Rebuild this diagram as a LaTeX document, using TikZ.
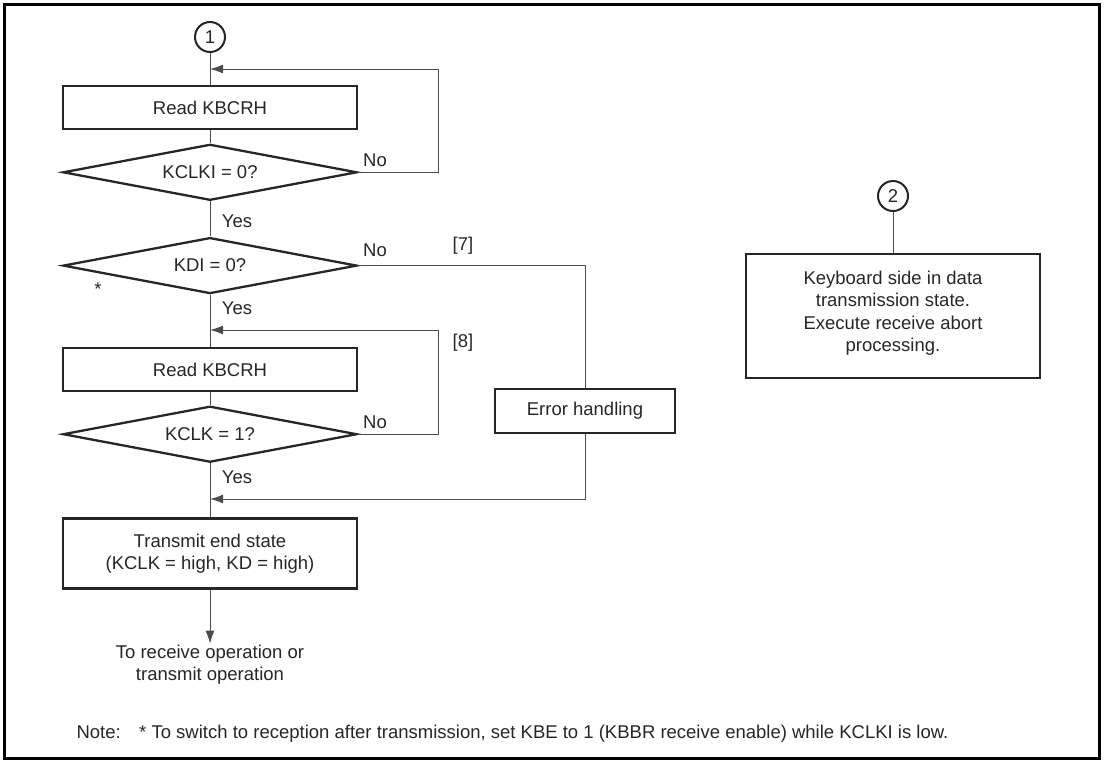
\documentclass[tikz,border=0pt]{standalone}
\usepackage{fontspec}
\setmainfont{Liberation Sans}
\usetikzlibrary{arrows.meta,positioning,shapes.geometric}

\begin{document}
\begin{tikzpicture}[
    x=1pt, y=-1pt,
    every node/.style={font=\fontsize{18.5}{22.5}\selectfont, text=black!85},
    procbox/.style={
      draw=black!85, line width=2.3pt,
      minimum width=294pt, minimum height=43pt,
      align=center, inner sep=2pt
    },
    decision/.style={
      draw=black!85, line width=2.3pt, diamond, aspect=5.25,
      minimum width=294pt, minimum height=56pt,
      inner sep=0pt
    },
    connector/.style={
      draw=black!85, line width=2pt, circle,
      minimum size=30pt, inner sep=0pt
    },
    flow/.style={line width=1pt, black!70},
    arrow/.style={flow, -{Latex[length=13pt,width=9pt]}},
    flowtag/.style={inner sep=0pt}
  ]

    \useasboundingbox (0,0) rectangle (1105,761);
    \draw[line width=3pt] (4,4) rectangle (1099,758);

    % left column
    \node[connector] (c1) at (210,37) {1};
    \node[procbox] (rd1) at (210,107.5) {Read KBCRH};
    \node[decision, below=13pt of rd1] (qkclki) {KCLKI = 0?};
    \node[decision, below=35pt of qkclki] (qkdi) {KDI = 0?};
    \node[procbox, below=52pt of qkdi] (rd2) {Read KBCRH};
    \node[decision, below=13pt of rd2] (qkclk) {KCLK = 1?};
    \node[procbox, minimum height=70pt, below=54pt of qkclk] (tend)
      {Transmit end state\\(KCLK = high, KD = high)};
    \node[align=center, inner sep=1pt, below=54pt of tend] (dest)
      {To receive operation or\\transmit operation};

    \coordinate (m1) at (210,69);
    \coordinate (m2) at (210,330);
    \coordinate (m3) at (210,499);
    \coordinate (r1) at (438,69);
    \coordinate (r2) at (438,330);

    \node[procbox, minimum width=180pt, minimum height=44pt] (err) at (585,411)
      {Error handling};

    % right part
    \node[connector] (c2) at (893,196) {2};
    \node[procbox, minimum height=124pt] (kbd) at (893,316)
      {Keyboard side in data\\transmission state.\\Execute receive abort\\processing.\\[-13.5pt]};

    % branch labels
    \node[flowtag] (no1) at (375,160) {No};
    \node[flowtag] (yes1) at (237,221) {Yes};
    \node[flowtag] (no2) at (375,250) {No};
    \node[flowtag] (tag7) at (463,246) {[7]};
    \node[flowtag] (star) at (98,289) {*};
    \node[flowtag] (yes2) at (237,308) {Yes};
    \node[flowtag] (tag8) at (463,343) {[8]};
    \node[flowtag] (no3) at (375,422) {No};
    \node[flowtag] (yes3) at (237,477) {Yes};

    \node[anchor=west] (note) at (73,734)
      {Note:\hspace{1em}* To switch to reception after transmission, set KBE to 1 (KBBR receive enable) while KCLKI is low.};

    \draw[flow] (c1) -- (rd1);
    \draw[flow] (rd1) -- (qkclki);
    \draw[arrow] (qkclki.east) -| (r1) -- (m1);
    \draw[flow] (qkclki) -- (qkdi);
    \draw[flow] (qkdi) -- (rd2);
    \draw[flow] (rd2) -- (qkclk);
    \draw[arrow] (qkclk.east) -| (r2) -- (m2);
    \draw[flow] (qkclk) -- (tend);
    \draw[flow] (qkdi.east) -| (err.north);
    \draw[arrow] (err.south) |- (m3);
    \draw[arrow] (tend) -- (dest);
    \draw[flow] (c2) -- (kbd);

\end{tikzpicture}
\end{document}
